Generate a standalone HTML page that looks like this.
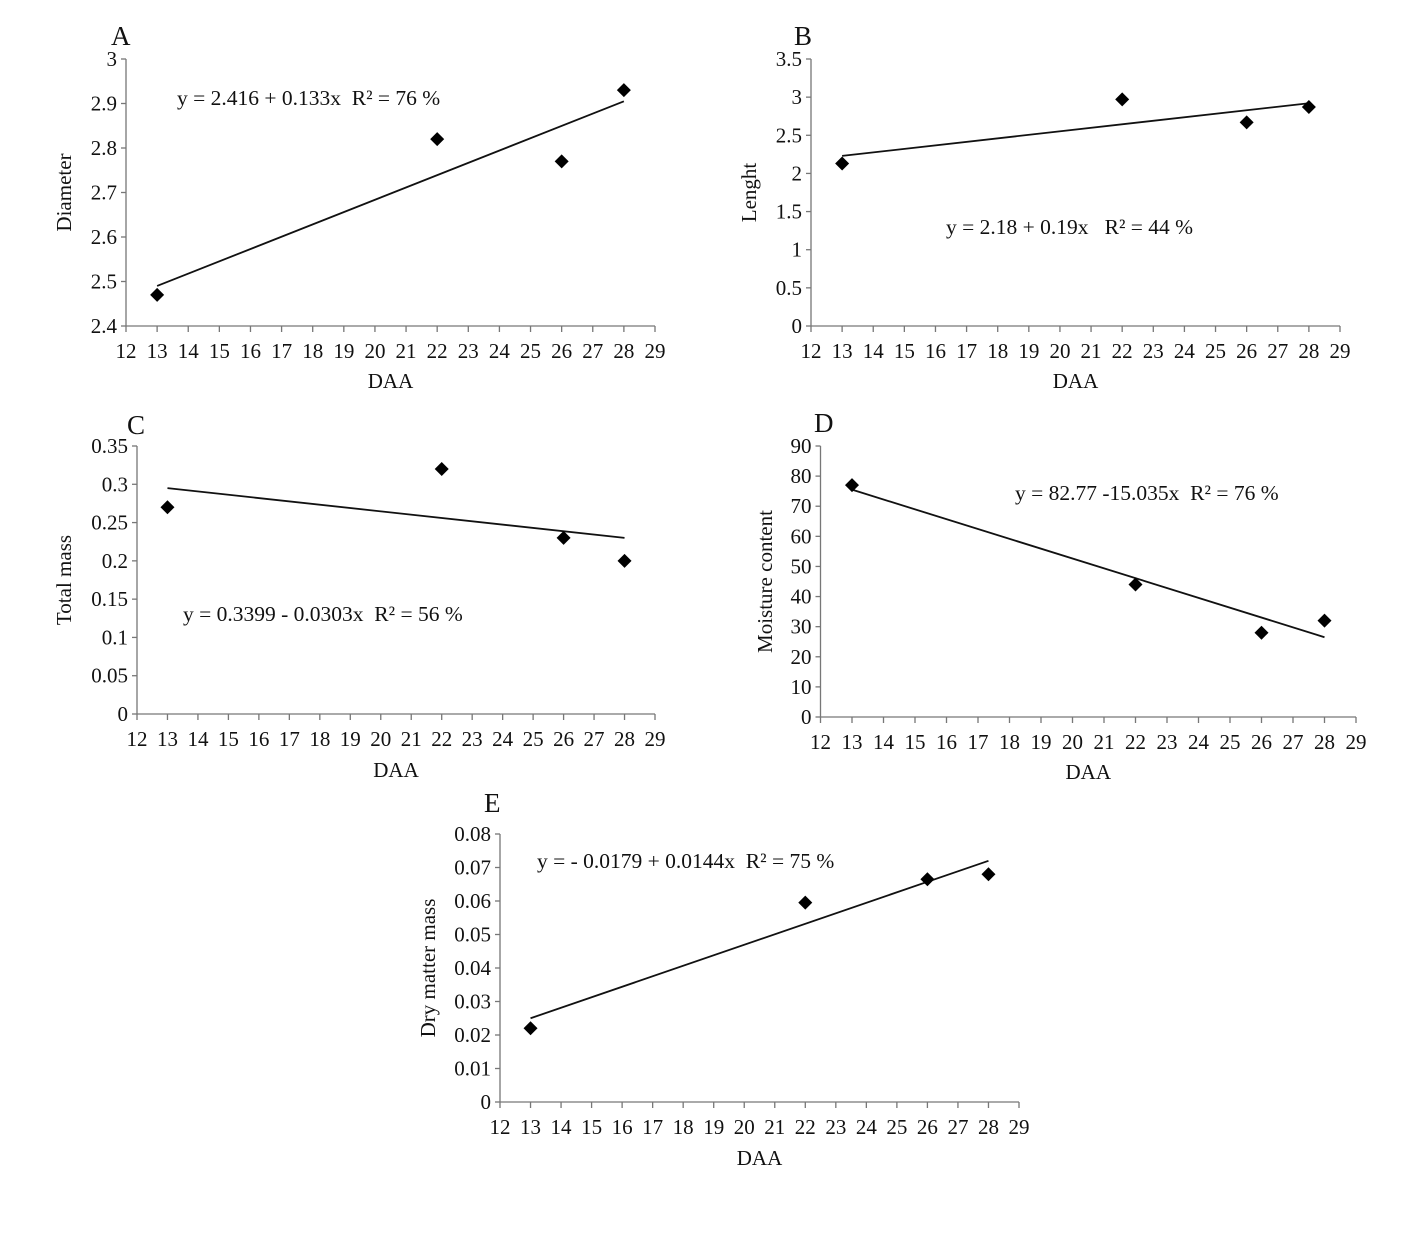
<!DOCTYPE html>
<html><head><meta charset="utf-8"><style>
body{margin:0;background:#fff;}
svg text{font-family:"Liberation Serif",serif;fill:#111;white-space:pre;}
</style></head><body>
<svg id="s" width="1410" height="1243" viewBox="0 0 1410 1243" xmlns="http://www.w3.org/2000/svg"></svg>
<script>
const daa = [13, 22, 26, 28];
const xTicks = [12,13,14,15,16,17,18,19,20,21,22,23,24,25,26,27,28,29];
const diameterVals = [2.47, 2.82, 2.77, 2.93];
const diameterFit = [2.49, 2.905];
const diameterTicks = ["2.4","2.5","2.6","2.7","2.8","2.9","3"];
const lengthVals = [2.13, 2.97, 2.67, 2.87];
const lengthFit = [2.23, 2.92];
const lengthTicks = ["0","0.5","1","1.5","2","2.5","3","3.5"];
const massVals = [0.27, 0.32, 0.23, 0.20];
const massFit = [0.295, 0.23];
const massTicks = ["0","0.05","0.1","0.15","0.2","0.25","0.3","0.35"];
const moistVals = [77, 44, 28, 32];
const moistFit = [75.5, 26.5];
const moistTicks = ["0","10","20","30","40","50","60","70","80","90"];
const dryVals = [0.022, 0.0595, 0.0665, 0.068];
const dryFit = [0.025, 0.072];
const dryTicks = ["0","0.01","0.02","0.03","0.04","0.05","0.06","0.07","0.08"];

const panels = [
 {id:'a',letter:'A',x0:126,x1:655,yTop:59,yBot:326,ymin:2.4,ymax:3,ticks:diameterTicks,vals:diameterVals,fit:diameterFit,title:'Diameter',tx:64,eq:'y = 2.416 + 0.133x  R² = 76 %',ex:177,ey:105,lx:111,ly:45,daaY:388},
 {id:'b',letter:'B',x0:811,x1:1340,yTop:59,yBot:326,ymin:0,ymax:3.5,ticks:lengthTicks,vals:lengthVals,fit:lengthFit,title:'Lenght',tx:749,eq:'y = 2.18 + 0.19x   R² = 44 %',ex:946,ey:234,lx:794,ly:45,daaY:388},
 {id:'c',letter:'C',x0:137,x1:655,yTop:446,yBot:714,ymin:0,ymax:0.35,ticks:massTicks,vals:massVals,fit:massFit,title:'Total mass',tx:64,eq:'y = 0.3399 - 0.0303x  R² = 56 %',ex:183,ey:621,lx:127,ly:434,daaY:777},
 {id:'d',letter:'D',x0:820.5,x1:1356,yTop:446,yBot:717,ymin:0,ymax:90,ticks:moistTicks,vals:moistVals,fit:moistFit,title:'Moisture content',tx:765,eq:'y = 82.77 -15.035x  R² = 76 %',ex:1015,ey:500,lx:814,ly:432,daaY:779},
 {id:'e',letter:'E',x0:500,x1:1019,yTop:834,yBot:1102,ymin:0,ymax:0.08,ticks:dryTicks,vals:dryVals,fit:dryFit,title:'Dry matter mass',tx:428,eq:'y = - 0.0179 + 0.0144x  R² = 75 %',ex:537,ey:868,lx:484,ly:812,daaY:1165}
];
const NS='http://www.w3.org/2000/svg';
const svg=document.getElementById('s');
function mk(tag,attrs,parent,text){const e=document.createElementNS(NS,tag);for(const k in attrs)e.setAttribute(k,attrs[k]);if(text!==undefined)e.textContent=text;parent.appendChild(e);return e;}
panels.forEach(p=>{
  const g=mk('g',{},svg);
  
  
  const xs=v=>p.x0+(v-12)/(29-12)*(p.x1-p.x0);
  const ys=v=>p.yBot-(v-p.ymin)/(p.ymax-p.ymin)*(p.yBot-p.yTop);
  const ax=mk('g',{stroke:'#777','stroke-width':1.3},g);
  
  
  mk('line',{x1:p.x0,y1:p.yTop,x2:p.x0,y2:p.yBot},ax);
  mk('line',{x1:p.x0,y1:p.yBot,x2:p.x1,y2:p.yBot},ax);
  p.ticks.forEach(t=>{const y=ys(parseFloat(t));mk('line',{x1:p.x0-5,y1:y,x2:p.x0,y2:y},ax);
    const tl=mk('text',{x:p.x0-9,y:y+7,'text-anchor':'end','font-size':21},g,t);
    
    });
  xTicks.forEach(t=>{const x=xs(t);mk('line',{x1:p.x0===x?x:x,y1:p.yBot,x2:x,y2:p.yBot+6},ax);
    const tl=mk('text',{x:x,y:p.yBot+32,'text-anchor':'middle','font-size':21},g,String(t));
    
    });
  const fl=mk('line',{x1:xs(daa[0]),y1:ys(p.fit[0]),x2:xs(daa[daa.length-1]),y2:ys(p.fit[1]),stroke:'#111','stroke-width':1.8},g);
  
  
  p.vals.forEach((v,i)=>{const cx=xs(daa[i]),cy=ys(v),r=7;
    const m=mk('polygon',{points:`${cx},${cy-r} ${cx+r},${cy} ${cx},${cy+r} ${cx-r},${cy}`,fill:'#000'},g);
    
    });
  const eq=mk('text',{x:p.ex,y:p.ey,'font-size':21.5},g,p.eq);
  
  
  const lt=mk('text',{x:p.lx,y:p.ly,'font-size':27},g,p.letter);
  
  
  const xt=mk('text',{x:(p.x0+p.x1)/2,y:p.daaY,'text-anchor':'middle','font-size':21},g,'DAA');
  
  
  const cy=(p.yTop+p.yBot)/2;
  const yt=mk('text',{x:p.tx,y:cy,'text-anchor':'middle','font-size':21,transform:`rotate(-90 ${p.tx} ${cy})`,dy:7},g,p.title);
  
  
});
</script>
</body></html>
